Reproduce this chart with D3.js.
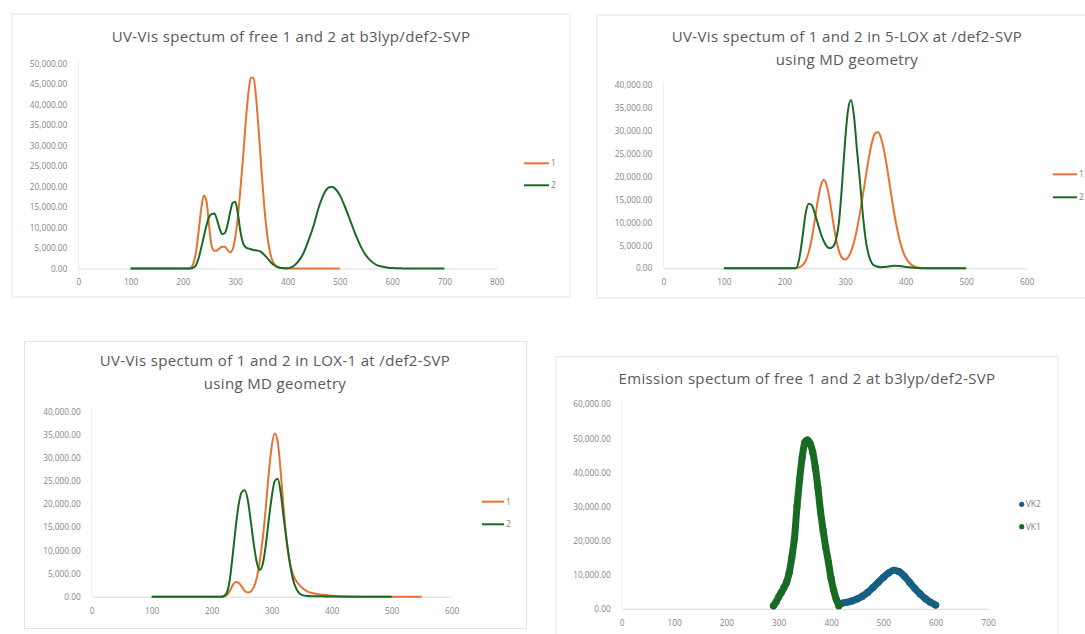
<!DOCTYPE html>
<html>
<head>
<meta charset="utf-8">
<script src="https://cdn.jsdelivr.net/npm/d3@7"></script>
<style>
  body { margin: 0; background: #fff; }
  svg { display: block; font-family: "Open Sans", "Noto Sans", sans-serif; }
</style>
</head>
<body>
<svg id="sheet" width="1085" height="634"></svg>
<script>
// wavelength (nm) / intensity pairs

// UV-Vis, free 1 and 2 at b3lyp/def2-SVP
const free1 = [[100,0],[150,0],[200,0],[210,0],[215,200],[220,1200],[225,4000],[230,9000],[235,14500],[240,17800],[245,16500],[250,10500],[255,5500],[260,4300],[265,4400],[270,4900],[275,5300],[280,5300],[285,4600],[290,3900],[295,4600],[300,7500],[305,12500],[310,19500],[315,27000],[320,35500],[325,42500],[330,46500],[335,46500],[340,41500],[345,33500],[350,24500],[355,16000],[360,9500],[365,5000],[370,2300],[375,1000],[380,400],[390,100],[400,0],[450,0],[500,0]];
const free2 = [[100,0],[150,0],[200,0],[215,0],[220,200],[225,800],[230,2500],[235,5000],[240,7800],[245,10500],[250,12500],[255,13300],[260,13400],[265,12000],[270,9800],[275,8400],[280,8600],[285,10500],[290,13500],[295,16000],[300,16300],[305,13500],[310,9000],[315,6200],[320,5200],[325,4900],[330,4700],[335,4500],[340,4400],[345,4300],[350,4000],[355,3400],[360,2700],[365,2000],[370,1300],[375,800],[380,400],[385,200],[390,100],[395,50],[400,50],[405,150],[410,450],[420,1600],[430,3600],[440,6800],[450,10500],[460,15000],[470,18300],[480,19800],[485,19900],[490,19600],[500,17900],[510,15000],[520,11700],[530,8300],[540,5400],[550,3200],[560,1800],[570,900],[580,500],[590,250],[600,100],[620,30],[650,0],[700,0]];

// UV-Vis, 1 and 2 in 5-LOX (MD geometry)
const lox5_1 = [[100,0],[150,0],[200,0],[215,0],[220,80],[225,250],[230,700],[235,1600],[240,3500],[245,6400],[250,10400],[255,14700],[260,18000],[265,19300],[270,18000],[275,14700],[280,10500],[285,6600],[290,3800],[295,2300],[300,1900],[305,2400],[310,3700],[315,5800],[320,8700],[325,12300],[330,16400],[335,20600],[340,24600],[345,27700],[350,29500],[355,29700],[360,28200],[365,25300],[370,21500],[375,17200],[380,13000],[385,9300],[390,6300],[395,4000],[400,2400],[405,1400],[410,750],[415,380],[420,190],[430,40],[440,0],[500,0]];
const lox5_2 = [[100,0],[150,0],[200,0],[215,0],[220,100],[225,2500],[230,7000],[235,12000],[240,14100],[245,13800],[250,12000],[255,9800],[260,7600],[265,5900],[270,4800],[275,4400],[280,4700],[285,6200],[290,10000],[295,18000],[300,27500],[305,34500],[310,36700],[315,33000],[320,25500],[325,18500],[330,11000],[335,5500],[340,2500],[345,1000],[350,500],[360,250],[370,350],[380,550],[390,500],[400,300],[410,150],[420,50],[430,0],[500,0]];

// UV-Vis, 1 and 2 in LOX-1 (MD geometry)
const lox1_1 = [[100,0],[150,0],[200,0],[215,0],[220,50],[225,300],[230,1200],[235,2500],[240,3200],[245,3000],[250,2200],[255,1300],[260,900],[265,1100],[270,2000],[275,4000],[280,7500],[285,12500],[290,19000],[295,26500],[300,32500],[305,35300],[310,33500],[315,27000],[320,19000],[325,12000],[330,7500],[335,5000],[340,3600],[345,2700],[350,2000],[355,1500],[360,1100],[370,750],[380,500],[390,350],[400,200],[420,50],[450,0],[500,0],[550,0]];
const lox1_2 = [[100,0],[150,0],[200,0],[215,0],[220,100],[225,800],[230,3500],[235,9000],[240,15000],[245,20000],[250,22600],[255,23000],[260,21000],[265,16500],[270,11500],[275,7500],[280,5800],[285,7000],[290,11000],[295,16500],[300,21500],[305,25000],[310,25500],[315,22500],[320,17000],[325,12000],[330,7500],[335,4000],[340,2000],[345,900],[350,400],[360,150],[380,80],[400,30],[450,0],[500,0]];

// Emission, free 1 and 2
const vk2 = [[415,1400],[420,1600],[430,1900],[440,2300],[450,2900],[460,3700],[470,4800],[480,6200],[490,7700],[500,9200],[510,10500],[520,11300],[530,10900],[540,9600],[550,7800],[560,6000],[570,4400],[580,3000],[590,1900],[600,1100]];
const vk1 = [[290,900],[295,2000],[300,3500],[305,4800],[310,6200],[315,7800],[320,10500],[325,15000],[330,20500],[335,30000],[340,38000],[345,44500],[350,48800],[355,49500],[360,48500],[365,46000],[370,41500],[375,35500],[380,28500],[385,23000],[390,18000],[395,13700],[400,9000],[405,5500],[410,2800],[415,900]];

const orange = "#E97132", green = "#196B24", blue = "#156082";

const panels = [
  { frame: [12, 14, 558, 283], titles: ["UV-Vis spectum of free 1 and 2 at b3lyp/def2-SVP"], titleX: 291, titleY: 37,
    xMax: 800, yMax: 50000, yStep: 5000, xRange: [78.3, 496.7], yRange: [268.5, 63.5], type: "line",
    series: [{ name: "1", data: free1, color: orange }, { name: "2", data: free2, color: green }],
    legend: { x: 524, y: 163.3, gap: 22, len: 25 } },
  { frame: [597, 15, 520, 283], titles: ["UV-Vis spectum of 1 and 2 in 5-LOX at /def2-SVP", "using MD geometry"], titleX: 847, titleY: 37,
    xMax: 600, yMax: 40000, yStep: 5000, xRange: [663.3, 1026.7], yRange: [268.3, 85], type: "line",
    series: [{ name: "1", data: lox5_1, color: orange }, { name: "2", data: lox5_2, color: green }],
    legend: { x: 1053, y: 174.3, gap: 23, len: 24 } },
  { frame: [24.5, 341.5, 502, 287], titles: ["UV-Vis spectum of 1 and 2 in LOX-1 at /def2-SVP", "using MD geometry"], titleX: 275, titleY: 360.5,
    xMax: 600, yMax: 40000, yStep: 5000, xRange: [91.7, 451.7], yRange: [596.7, 411.7], type: "line",
    series: [{ name: "1", data: lox1_1, color: orange }, { name: "2", data: lox1_2, color: green }],
    legend: { x: 482, y: 501.7, gap: 22.6, len: 22 } },
  { frame: [556, 356.7, 502, 300], titles: ["Emission spectum of free 1 and 2 at b3lyp/def2-SVP"], titleX: 807, titleY: 378.5,
    xMax: 700, yMax: 60000, yStep: 10000, xRange: [621.7, 988], yRange: [608.8, 404.3], type: "scatter",
    series: [{ name: "VK2", data: vk2, color: blue }, { name: "VK1", data: vk1, color: green }],
    legend: { x: 1021.7, y: 504.3, gap: 22.4 } }
];

const svg = d3.select("#sheet");

panels.forEach(p => drawPanel(p));

function drawPanel(p) {
  const g = svg.append("g");

  g.append("rect")
    .attr("x", p.frame[0]).attr("y", p.frame[1])
    .attr("width", p.frame[2]).attr("height", p.frame[3])
    .attr("fill", "#fff").attr("stroke", "#e3e3e3").attr("stroke-width", 1);

  p.titles.forEach((t, i) => {
    g.append("text")
      .attr("x", p.titleX).attr("y", p.titleY + i * 23)
      .attr("dy", "0.35em").attr("text-anchor", "middle")
      .attr("font-size", 15).attr("letter-spacing", 0.35).attr("fill", "#595959")
      .text(t);
  });

  const x = d3.scaleLinear().domain([0, p.xMax]).range(p.xRange);
  const y = d3.scaleLinear().domain([0, p.yMax]).range(p.yRange);

  // faint value axis line
  g.append("line")
    .attr("x1", p.xRange[0]).attr("x2", p.xRange[0])
    .attr("y1", p.yRange[0]).attr("y2", p.yRange[1] - 3)
    .attr("stroke", "#ededed");

  const yAxis = g.append("g")
    .attr("transform", `translate(${p.xRange[0]},0)`)
    .call(d3.axisLeft(y)
      .tickValues(d3.range(0, p.yMax + 1, p.yStep))
      .tickFormat(d3.format(",.2f"))
      .tickSize(0).tickPadding(11));
  yAxis.select(".domain").remove();

  const xAxis = g.append("g")
    .attr("transform", `translate(0,${p.yRange[0]})`)
    .call(d3.axisBottom(x)
      .tickValues(d3.range(0, p.xMax + 1, 100))
      .tickFormat(d3.format("d"))
      .tickSize(0).tickPadding(11));
  xAxis.select(".domain").attr("stroke", "#d9d9d9");

  g.selectAll(".tick text")
    .attr("font-family", "'Open Sans', sans-serif")
    .attr("font-size", 8.3).attr("fill", "#858585");

  const line = d3.line()
    .x(d => x(d[0])).y(d => y(d[1]))
    .curve(d3.curveMonotoneX);

  p.series.forEach(s => {
    if (p.type === "line") {
      g.append("path")
        .datum(s.data)
        .attr("fill", "none").attr("stroke", s.color)
        .attr("stroke-width", 2).attr("stroke-linejoin", "round")
        .attr("d", line);
    } else {
      g.append("path")
        .datum(s.data)
        .attr("fill", "none").attr("stroke", s.color)
        .attr("stroke-width", 7).attr("stroke-linecap", "round").attr("stroke-linejoin", "round")
        .attr("d", line);
      g.selectAll(null)
        .data(s.data)
        .enter()
        .append("circle")
        .attr("cx", d => x(d[0])).attr("cy", d => y(d[1]))
        .attr("r", 3.6).attr("fill", s.color);
    }
  });

  // legend
  const lg = g.append("g");
  p.series.forEach((s, i) => {
    const ly = p.legend.y + i * p.legend.gap;
    if (p.type === "line") {
      lg.append("line")
        .attr("x1", p.legend.x).attr("x2", p.legend.x + p.legend.len)
        .attr("y1", ly).attr("y2", ly)
        .attr("stroke", s.color).attr("stroke-width", 2);
      lg.append("text")
        .attr("x", p.legend.x + p.legend.len + 2).attr("y", ly)
        .attr("dy", "0.35em").attr("font-size", 8.5).attr("fill", "#7f7f7f")
        .text(s.name);
    } else {
      lg.append("circle")
        .attr("cx", p.legend.x).attr("cy", ly).attr("r", 2.6)
        .attr("fill", s.color);
      lg.append("text")
        .attr("x", p.legend.x + 4).attr("y", ly)
        .attr("dy", "0.35em").attr("font-size", 8.5).attr("fill", "#7f7f7f")
        .text(s.name);
    }
  });
}
</script>
</body>
</html>
